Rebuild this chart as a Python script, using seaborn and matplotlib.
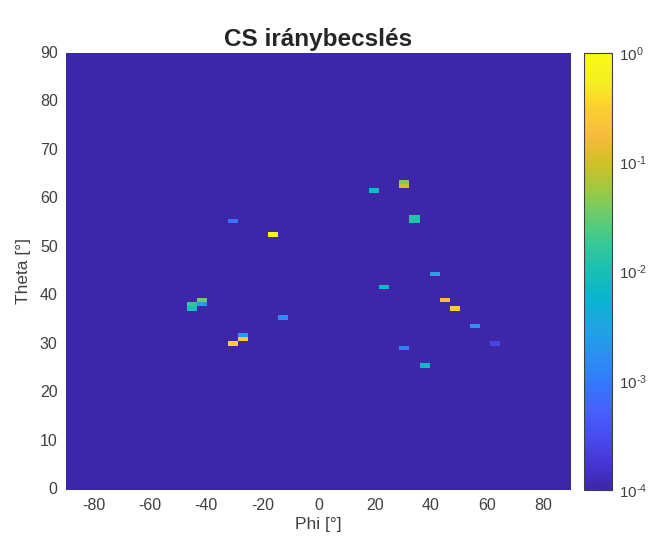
import numpy as np
import pandas as pd
import seaborn as sns
import matplotlib
matplotlib.use('Agg')
import matplotlib.pyplot as plt
from matplotlib.colors import LogNorm, LinearSegmentedColormap
from matplotlib.ticker import LogLocator

# estimation grid: 50 phi cells of 3.6 deg, 100 theta cells of 0.9 deg
phi_step = 3.6
theta_step = 0.9
n_phi = 50
n_theta = 100
floor_val = 1e-4

# nonzero cells (cell centre phi, theta in deg, power)
peak_phi = [-30.6, -16.2, -45.0, -45.0, -41.4, -41.4, -27.0, -27.0, -30.6, -12.6,
            19.8, 30.6, 30.6, 34.2, 34.2, 41.4, 23.4, 45.0, 48.6, 55.8,
            63.0, 30.6, 37.8]
peak_theta = [55.35, 52.65, 37.35, 38.25, 38.25, 39.15, 31.95, 31.05, 30.15, 35.55,
              61.65, 62.55, 63.45, 55.35, 56.25, 44.55, 41.85, 39.15, 37.35, 33.75,
              30.15, 29.25, 25.65]
peak_val = [8e-4, 0.7, 0.01, 0.015, 2.5e-3, 0.035, 2e-3, 0.25, 0.3, 1.5e-3,
            8e-3, 0.1, 0.04, 0.012, 0.012, 3e-3, 8e-3, 0.2, 0.28, 2e-3,
            2.5e-4, 1e-3, 7e-3]

phi_ticks = [-80, -60, -40, -20, 0, 20, 40, 60, 80]
theta_ticks = [0, 10, 20, 30, 40, 50, 60, 70, 80, 90]
cbar_ticks = [1e-4, 1e-3, 1e-2, 1e-1, 1e0]
cbar_labels = [r'$10^{\text{-4}}$', r'$10^{\text{-3}}$', r'$10^{\text{-2}}$',
               r'$10^{\text{-1}}$', r'$10^{0}$']

phi_centres = np.round(-90 + (np.arange(n_phi) + 0.5) * phi_step, 2)
theta_centres = np.round((np.arange(n_theta) + 0.5) * theta_step, 2)
grid = pd.DataFrame(floor_val, index=theta_centres, columns=phi_centres)
for p, t, v in zip(peak_phi, peak_theta, peak_val):
    i = int(np.argmin(np.abs(phi_centres - p)))
    j = int(np.argmin(np.abs(theta_centres - t)))
    grid.iloc[j, i] = v

# parula (subsampled)
parula = [(0.2422, 0.1504, 0.6603), (0.2706, 0.2147, 0.8364), (0.2813, 0.3006, 0.9414),
          (0.2699, 0.3892, 0.9906), (0.1963, 0.4847, 0.9892), (0.1687, 0.5703, 0.9359),
          (0.1248, 0.6459, 0.8883), (0.0297, 0.7082, 0.8163), (0.0964, 0.7500, 0.7120),
          (0.2161, 0.7843, 0.5923), (0.3909, 0.8029, 0.4354), (0.6174, 0.7876, 0.2612),
          (0.8203, 0.7498, 0.1535), (0.9728, 0.7298, 0.2394), (0.9892, 0.8136, 0.1885),
          (0.9628, 0.9373, 0.1265), (0.9769, 0.9839, 0.0805)]
cmap = LinearSegmentedColormap.from_list('parula', parula, N=256)

sns.set_style('white')
plt.rcParams['font.family'] = ['Liberation Sans', 'DejaVu Sans']
plt.rcParams['mathtext.fontset'] = 'custom'
plt.rcParams['mathtext.rm'] = 'Liberation Sans'
plt.rcParams['mathtext.it'] = 'Liberation Sans:italic'
plt.rcParams['mathtext.bf'] = 'Liberation Sans:bold'

W, H = 650, 548
fig = plt.figure(figsize=(6.5, 5.48), dpi=100)
ax = fig.add_axes([66 / W, 1 - 490 / H, 505 / W, 437 / H])
cax = fig.add_axes([584 / W, 1 - 490 / H, 28 / W, 437 / H])

sns.heatmap(grid, ax=ax, cbar_ax=cax, cmap=cmap,
            norm=LogNorm(vmin=1e-4, vmax=1), linewidths=0)
ax.invert_yaxis()

ax.set_xticks([(p + 90) / phi_step for p in phi_ticks])
ax.set_xticklabels([str(p) for p in phi_ticks], rotation=0)
ax.set_yticks([t / theta_step for t in theta_ticks])
ax.set_yticklabels([str(t) for t in theta_ticks], rotation=0)
ax.tick_params(axis='both', labelsize=11.5, colors='#404040', length=0, pad=6)
ax.set_xlabel('Phi [°]', fontsize=12.5, color='#404040', labelpad=3)
ax.set_ylabel('Theta [°]', fontsize=12.5, color='#404040', labelpad=6)
ax.set_title('CS iránybecslés', fontsize=17.5, fontweight='bold', pad=5)

cbar = ax.collections[0].colorbar
cbar.set_ticks(cbar_ticks)
cbar.set_ticklabels(cbar_labels)
cbar.ax.yaxis.set_minor_locator(LogLocator(base=10, subs=range(2, 10)))
cbar.ax.tick_params(which='major', direction='in', length=4, labelsize=11,
                    colors='#404040', pad=5)
cbar.ax.tick_params(which='minor', direction='in', length=2, colors='#404040')
cbar.outline.set_visible(True)
cbar.outline.set_edgecolor('#404040')
cbar.outline.set_linewidth(0.8)

fig.savefig('out.png', dpi=100)
